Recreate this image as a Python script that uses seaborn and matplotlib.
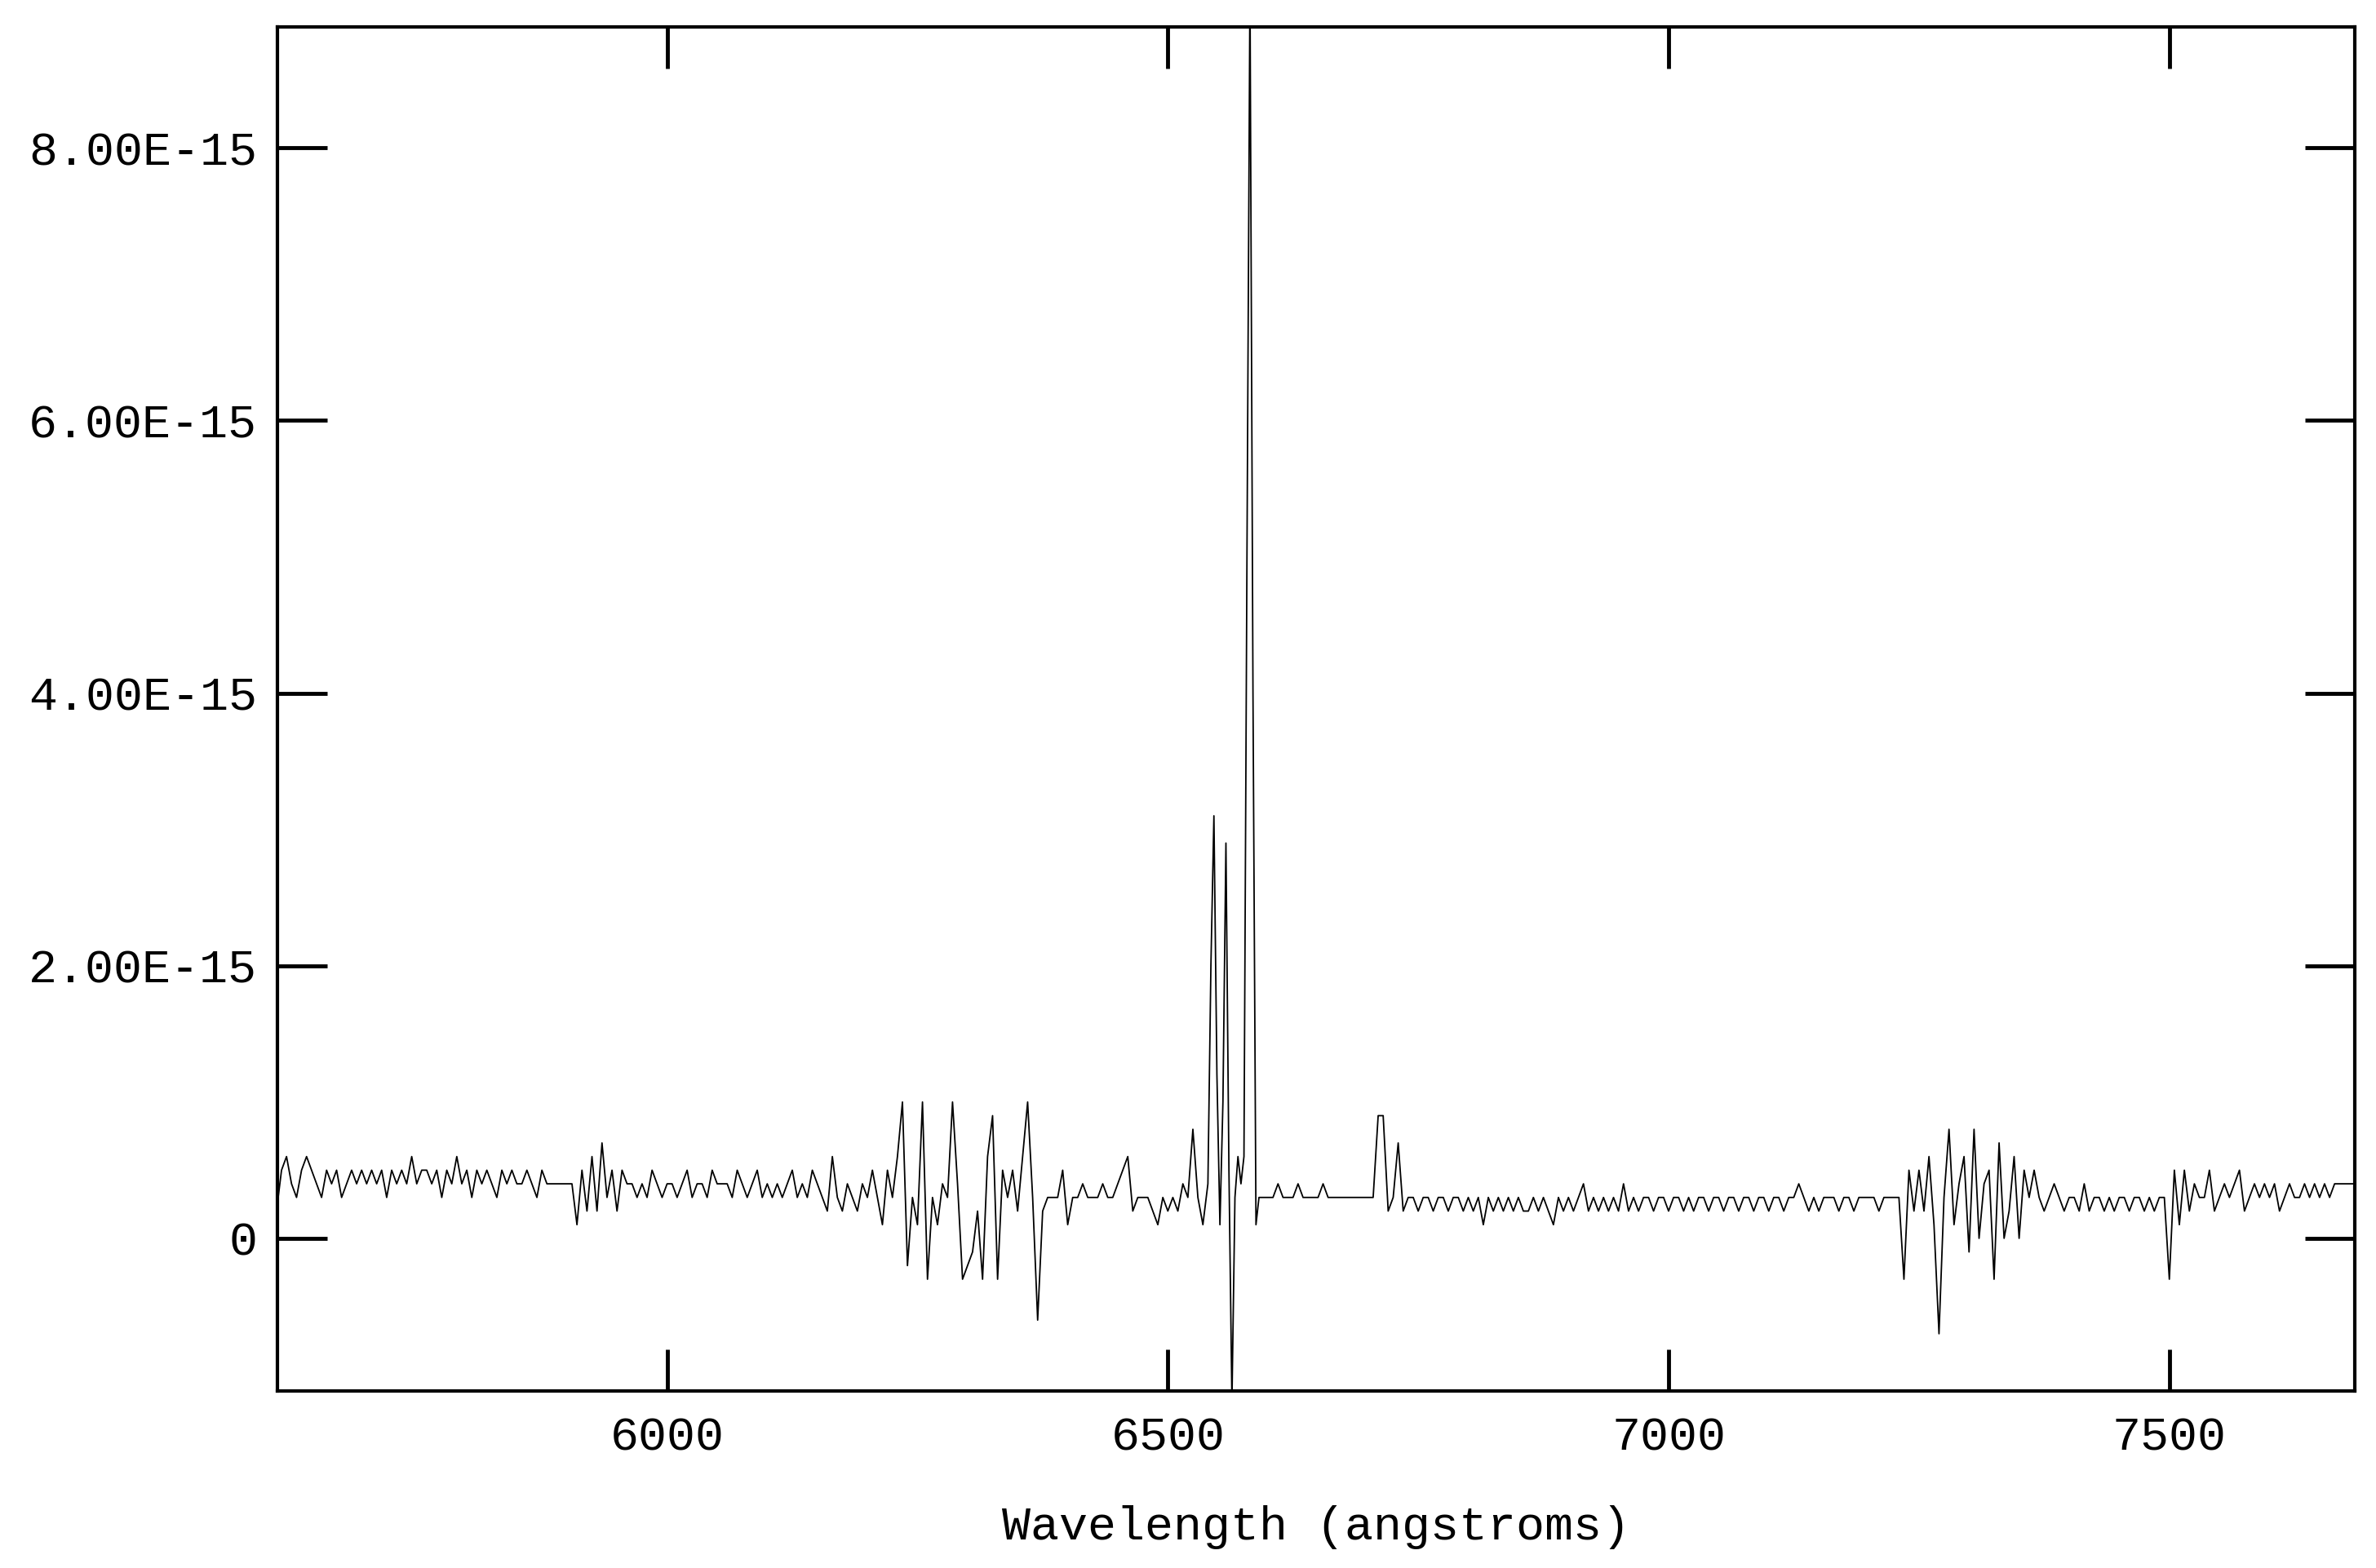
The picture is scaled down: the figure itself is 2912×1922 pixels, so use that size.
import numpy as np
import pandas as pd
import matplotlib
matplotlib.use("Agg")
import matplotlib.pyplot as plt
import seaborn as sns

# flux values in units of 1e-16, 5 A steps starting at 5610
seg1_flux = [2,5,6,4,3,5,6,5,4,3,
             5,4,5,3,4,5,4,5,4,5,
             4,5,3,5,4,5,4,6,4,5,
             5,4,5,3,5,4,6,4,5,3,
             5,4,5,4,3,5,4,5,4,4,
             5,4,3,5,4,4,4,4,4,4,
             1,5,2,6,2,7,3,5,2,5,
             4,4,3,4,3,5,4,3,4,4,
             3,4,5,3,4,4,3,5,4,4,
             4,3,5,4,3,4,5,3,4,3,
             4,3,4,5,3,4,3,5,4,3,
             2,6,3,2,4,3,2,4,3,5,
             3,1,5,3,6,10,-2,3,1,10,
             -3,3,1,4,3,10,4,-3,-2,-1,
             2,-3,6,9,-3,5,3,5,2,6,
             10,3,-6,2,3,3,3,5,1,3,
             3,4,3,3,3,4,3,3,4,5,
             6,2,3,3,3,2,1,3,2,3,
             2,4]
line_wl = [6520,6525,6530,6535,6540,6543,6546,6549,6552,6555,6558,6561,6564,
           6567,6570,6573,6576,6579,6582,6585,6588,6591,6595]
line_flux = [3,8,3,1,4,20,31,12,1,10,29,5,-12,3,6,4,6,50,92,40,1,3,3]
seg3_flux = [3,3,4,3,3,3,4,3,3,3,
             3,4,3,3,3,3,3,3,3,3,
             3,3,9,9,2,3,7,2,3,3,
             2,3,3,2,3,3,2,3,3,2,
             3,2,3,1,3,2,3,2,3,2,
             3,2,2,3,2,3,2,1,3,2,
             3,2,3,4,2,3,2,3,2,3,
             2,4,2,3,2,3,3,2,3,3,
             2,3,3,2,3,2,3,3,2,3,
             3,2,3,3,2,3,3,2,3,3,
             2,3,3,2,3,3,4,3,2,3,
             2,3,3,3,2,3,3,2,3,3,
             3,3,2,3,3,3,3,-3,5,2,
             5,2,6,1,-7,3,8,1,4,6,
             -1,8,0,4,5,-3,7,0,2,6,
             0,5,3,5,3,2,3,4,3,2,
             3,3,2,4,2,3,3,2,3,2,
             3,3,2,3,3,2,3,2,3,3,
             -3,5,1,5,2,4,3,3,5,2,
             3,4,3,4,5,2,3,4,3,4,
             3,4,2,3,4,3,3,4,3,4,
             3,4,3,4,4,4,4,4]

wl = np.concatenate([5610 + 5*np.arange(len(seg1_flux)), line_wl,
                     6600 + 5*np.arange(len(seg3_flux))])
flux = np.concatenate([seg1_flux, line_flux, seg3_flux]) * 1e-16
df = pd.DataFrame({"wl": wl, "flux": flux})

sns.set_theme(style="white")
plt.rcParams['font.family'] = ['Liberation Mono', 'DejaVu Sans Mono']
plt.rcParams['text.color'] = 'black'
plt.rcParams['axes.labelcolor'] = 'black'
plt.rcParams['xtick.color'] = 'black'
plt.rcParams['ytick.color'] = 'black'

fig = plt.figure(figsize=(29.12, 19.22), dpi=100)
ax = fig.add_axes([0.1168, 0.1129, 0.991-0.1168, 0.983-0.1129])
sns.lineplot(data=df, x="wl", y="flux", ax=ax, color="black", linewidth=1.3, sort=False)
ax.set_xlim(5611, 7685)
ax.set_ylim(-1.12e-15, 8.89e-15)
ax.set_xticks([6000, 6500, 7000, 7500])
ax.set_xticklabels(["6000", "6500", "7000", "7500"])
yt = [0, 2e-15, 4e-15, 6e-15, 8e-15]
ax.set_yticks(yt)
ax.set_yticklabels(["0", "2.00E-15", "4.00E-15", "6.00E-15", "8.00E-15"])
ax.tick_params(axis='x', direction='in', length=37, width=3.5, top=True, bottom=True,
               labelsize=42, pad=22, colors='black')
ax.tick_params(axis='y', direction='in', length=44, width=3.5, left=True, right=True,
               labelsize=42, pad=18, colors='black')
for s in ax.spines.values():
    s.set_linewidth(3)
    s.set_color("black")
ax.set_xlabel("Wavelength (angstroms)", fontsize=42, labelpad=40, color='black')
ax.set_ylabel("")
fig.savefig("out.png", dpi=100, facecolor="white")
